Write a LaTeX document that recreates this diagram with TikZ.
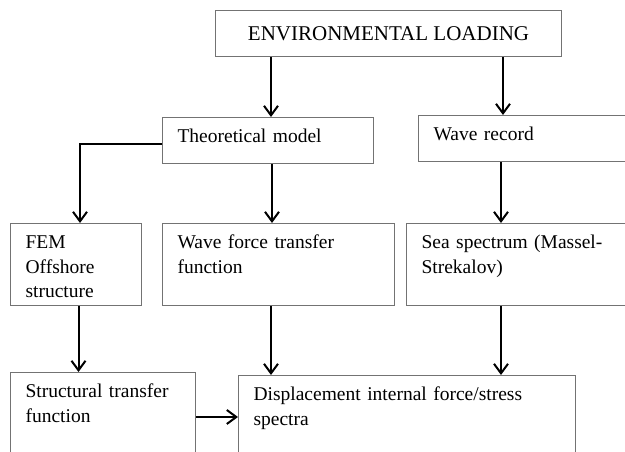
\documentclass[tikz,border=0pt]{standalone}
\usepackage{fontspec}
\setmainfont{Liberation Serif}
\usetikzlibrary{arrows.meta}

\begin{document}
\begin{tikzpicture}[x=1pt,y=1pt,
  >={Straight Barb[length=9.5pt,width=14pt]},
  box/.style={draw=black!55,line width=1.1pt,anchor=north west,
    inner xsep=15pt,inner ysep=0pt,text height=25pt,align=left,
    font=\fontsize{19.5}{24.5}\selectfont},
  arr/.style={->,line width=2pt}]
  \useasboundingbox (0,0) rectangle (625,452);
  \clip (0,0) rectangle (625,452);
  % boxes
  \node[draw=black!55,line width=1.1pt,anchor=north west,minimum width=346pt,
    minimum height=46pt,inner sep=0pt,font=\fontsize{21}{25}\selectfont]
    (env) at (215,442) {ENVIRONMENTAL LOADING};
  \node[box,text width=181pt,text depth=21pt] (theory) at (162,335) {Theoretical model};
  \node[box,text width=230pt,text depth=21pt] (record) at (418,337) {Wave record};
  \node[box,text width=101pt,text depth=57pt] (fem) at (10,229) {FEM\\Offshore\\structure};
  \node[box,text width=202pt,text depth=57pt] (wforce) at (162,229) {Wave force transfer\\function};
  \node[box,text width=230pt,text depth=57pt] (seaspec) at (406,229) {Sea spectrum (Massel-\\Strekalov)};
  \node[box,text width=155pt,text depth=75pt] (struct) at (10,80) {Structural transfer\\function};
  \node[box,text width=307pt,text depth=73pt] (disp) at (238,77) {Displacement internal force/stress\\spectra};
  % arrows
  \draw[arr] ([xshift=56pt]env.south west) coordinate (e1) -- (e1 |- theory.north);
  \coordinate (e2) at ([xshift=85pt]record.north west);
  \draw[arr] (env.south -| e2) -- (e2);
  \draw[arr] ([yshift=-3pt]theory.west) -| ([xshift=70pt]fem.north west);
  \coordinate (t1) at ([xshift=110pt]wforce.north west);
  \draw[arr] (theory.south -| t1) -- (t1);
  \coordinate (r1) at ([xshift=95pt]seaspec.north west);
  \draw[arr] (record.south -| r1) -- (r1);
  \coordinate (f1) at ([xshift=68.5pt]struct.north west);
  \draw[arr] (fem.south -| f1) -- (f1);
  \draw[arr] ([xshift=109pt]wforce.south west) coordinate (w1) -- (w1 |- disp.north);
  \draw[arr] ([xshift=95pt]seaspec.south west) coordinate (s1) -- (s1 |- disp.north);
  \draw[arr] ([yshift=-45pt]struct.north east) coordinate (h1) -- (h1 -| disp.west);
\end{tikzpicture}
\end{document}
